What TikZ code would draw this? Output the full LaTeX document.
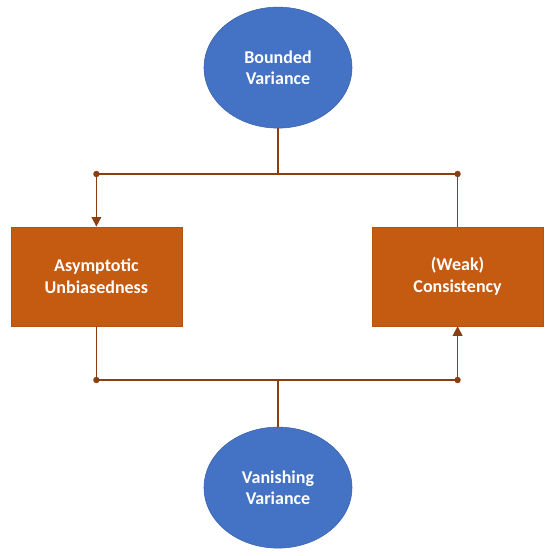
\documentclass[tikz,border=0pt]{standalone}
\usepackage{fontspec}
\setmainfont{Carlito}
\usetikzlibrary{shapes.geometric,arrows.meta}

\definecolor{varblue}{HTML}{4472C4}
\definecolor{varedge}{HTML}{3A63AD}
\definecolor{proporange}{HTML}{C55A11}
\definecolor{propedge}{HTML}{B5520F}
\definecolor{linkbrown}{HTML}{8A3F12}

\tikzset{
	variance/.style={ellipse, fill=varblue, draw=varedge, line width=0.4pt,
		minimum width=3.7cm, minimum height=3.025cm, inner sep=0pt,
		align=center, text=white, font=\fontsize{12.8}{15.2}\selectfont\bfseries},
	property/.style={rectangle, fill=proporange, draw=propedge, line width=0.4pt,
		minimum width=4.275cm, minimum height=2.475cm, inner sep=0pt,
		align=center, text=white, font=\fontsize{12.8}{15.2}\selectfont\bfseries},
	link/.style={draw=linkbrown, line width=1.1pt},
	linktip/.style={-{Triangle[width=0.24cm,length=0.24cm]}},
	joint/.style={fill=linkbrown}
}

\begin{document}
\begin{tikzpicture}
		\useasboundingbox (0,0) rectangle (13.825,13.9);

		% Variance conditions
		\node[variance] (bounded) at (6.95,12.21) {Bounded\\Variance};
		\node[variance] (vanishing) at (6.95,1.71) {Vanishing\\Variance};

		% Properties
		\node[property] (unbiased) at (2.41,6.99) {Asymptotic\\Unbiasedness};
		\node[property] (consistent) at (11.44,6.99) {(Weak)\\Consistency};

		% Rail corners
		\coordinate (topleft) at (2.41,9.55);
		\coordinate (topright) at (11.44,9.55);
		\coordinate (botleft) at (2.41,4.4);
		\coordinate (botright) at (11.44,4.4);

		% Upper rail
		\draw[link] (bounded.south) -- (bounded.south |- topleft);
		\draw[link] (topleft) -- (topright);
		\draw[link,linktip] (topleft) -- (unbiased.north);
		\draw[link] (consistent.north) -- (topright);

		% Lower rail
		\draw[link] (unbiased.south) -- (botleft);
		\draw[link] (botleft) -- (botright);
		\draw[link] (vanishing.north) -- (vanishing.north |- botleft);
		\draw[link,linktip] (botright) -- (consistent.south);

		% Joints
		\fill[joint] (topleft) circle (0.08);
		\fill[joint] (topright) circle (0.08);
		\fill[joint] (botleft) circle (0.08);
		\fill[joint] (botright) circle (0.08);
	\end{tikzpicture}
\end{document}
